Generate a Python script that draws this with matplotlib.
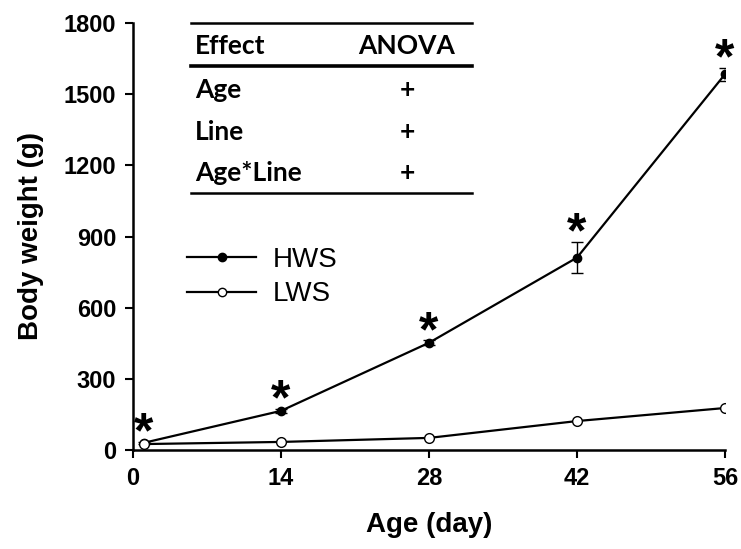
import matplotlib
matplotlib.use("Agg")
import matplotlib.pyplot as plt
from matplotlib.lines import Line2D

# Body weight data (mean and error) for the two lines
age_days = [1, 14, 28, 42, 56]
hws_mean = [30, 165, 452, 811, 1584]
hws_err = [4, 8, 10, 65, 28]
lws_mean = [25, 34, 51, 122, 177]
lws_err = [2, 3, 4, 6, 8]

x_ticks = [0, 14, 28, 42, 56]
y_ticks = [0, 300, 600, 900, 1200, 1500, 1800]

# ANOVA summary table
table_header = ["Effect", "ANOVA"]
table_effects = ["Age", "Line", "Age*Line"]
table_results = ["+", "+", "+"]

W, H = 741, 549
fig = plt.figure(figsize=(W / 100, H / 100), dpi=100)
ax = fig.add_axes([133 / W, 1 - 450 / H, (725 - 133) / W, (450 - 23) / H])

axis_font = "Liberation Sans"
table_font = "Lato"

ax.errorbar(age_days, hws_mean, yerr=hws_err, color="black", lw=1.6,
            marker="o", ms=6, mfc="black", mec="black",
            ecolor="black", elinewidth=1.0, capsize=4, capthick=1.0,
            label="HWS", zorder=3)
ax.errorbar(age_days, lws_mean, yerr=lws_err, color="black", lw=1.6,
            marker="o", ms=7, mfc="white", mec="black", mew=1.0,
            ecolor="black", elinewidth=1.0, capsize=3, capthick=1.0,
            label="LWS", zorder=4)

# significance marks above the HWS points
for x, m, e in zip(age_days, hws_mean, hws_err):
    ax.annotate("*", xy=(x, m + e), xytext=(0, -4), textcoords="offset points",
                ha="center", va="baseline", fontsize=36, fontweight="bold",
                family=axis_font)

ax.set_xlim(0, 56)
ax.set_ylim(0, 1800)
ax.set_xticks(x_ticks)
ax.set_yticks(y_ticks)
ax.tick_params(direction="out", length=6, width=1.5, labelsize=17, pad=6)
for lab in ax.get_xticklabels() + ax.get_yticklabels():
    lab.set_fontweight("bold")
    lab.set_family(axis_font)
ax.spines["top"].set_visible(False)
ax.spines["right"].set_visible(False)
for s in ("left", "bottom"):
    ax.spines[s].set_linewidth(1.8)

ax.set_xlabel("Age (day)", fontsize=20, fontweight="bold", family=axis_font, labelpad=16)
ax.set_ylabel("Body weight (g)", fontsize=20, fontweight="bold", family=axis_font, labelpad=14)

handles = [
    Line2D([], [], color="black", lw=1.6, marker="o", ms=6, mfc="black", mec="black"),
    Line2D([], [], color="black", lw=1.6, marker="o", ms=6, mfc="white", mec="black"),
]
ax.legend(handles, ["HWS", "LWS"], loc="upper left",
          bbox_to_anchor=((162 - 133) / (725 - 133), 1 - (222 - 23) / (450 - 23)),
          frameon=False, handlelength=2.5, handletextpad=0.6, labelspacing=0.3,
          prop={"family": axis_font, "size": 20})

# ANOVA table drawn in figure coordinates
def fx(px):
    return px / W

def fy(py):
    return 1 - py / H

x0, x1 = 191, 472
for py, lw in [(23, 1.8), (66, 2.6), (193, 1.8)]:
    fig.add_artist(Line2D([fx(x0), fx(x1)], [fy(py), fy(py)], color="black", lw=lw))

tsize = 19
fig.text(fx(x0 + 4), fy(46), table_header[0], fontsize=tsize, fontweight="bold",
         family=table_font, ha="left", va="center")
fig.text(fx(407), fy(46), table_header[1], fontsize=tsize, fontweight="bold",
         family=table_font, ha="center", va="center")
for i, (eff, res) in enumerate(zip(table_effects, table_results)):
    yy = 90 + i * 41.5
    fig.text(fx(x0 + 4), fy(yy), eff, fontsize=tsize, fontweight="bold",
             family=table_font, ha="left", va="center")
    fig.text(fx(407), fy(yy), res, fontsize=tsize, fontweight="bold",
             family=table_font, ha="center", va="center")

fig.savefig("out.png", dpi=100)
